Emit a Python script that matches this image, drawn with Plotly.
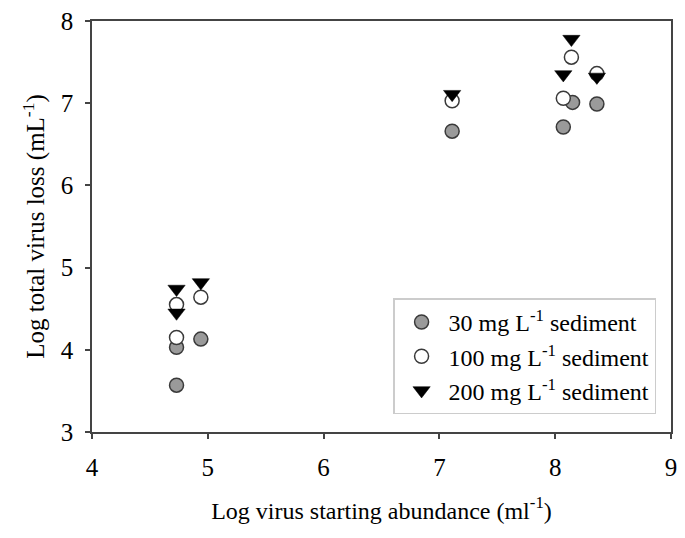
import plotly.graph_objects as go

# Data
x_30 = [4.73, 4.73, 4.94, 7.11, 8.07, 8.15, 8.36]
y_30 = [3.57, 4.03, 4.13, 6.66, 6.71, 7.01, 6.99]

x_100 = [4.73, 4.73, 4.94, 7.11, 8.07, 8.14, 8.36]
y_100 = [4.15, 4.55, 4.64, 7.03, 7.06, 7.56, 7.36]

x_200 = [4.73, 4.73, 4.94, 7.11, 8.07, 8.14, 8.36]
y_200 = [4.45, 4.74, 4.82, 7.11, 7.35, 7.78, 7.32]

names = ["30 mg L<sup>-1</sup> sediment",
         "100 mg L<sup>-1</sup> sediment",
         "200 mg L<sup>-1</sup> sediment"]

x_ticks = [4, 5, 6, 7, 8, 9]
y_ticks = [3, 4, 5, 6, 7, 8]

FONT = "Liberation Serif, Times New Roman, serif"

fig = go.Figure()
fig.add_trace(go.Scatter(
    x=x_30, y=y_30, mode="markers", name=names[0],
    marker=dict(symbol="circle", size=14, color="#9a9a9a",
                line=dict(color="#3a3a3a", width=1.5))))
fig.add_trace(go.Scatter(
    x=x_100, y=y_100, mode="markers", name=names[1],
    marker=dict(symbol="circle", size=14, color="white",
                line=dict(color="#3a3a3a", width=1.5))))
fig.add_trace(go.Scatter(
    x=x_200, y=y_200, mode="markers", name=names[2],
    marker=dict(symbol="triangle-down", size=15, color="black",
                line=dict(color="black", width=0.5))))

axis_common = dict(
    showgrid=False, zeroline=False, showline=True, linecolor="#444444",
    linewidth=1.5, mirror=True, ticks="outside", ticklen=5,
    tickcolor="#444444", tickwidth=1.5,
    tickfont=dict(family=FONT, size=25, color="black"),
)

fig.update_layout(
    width=685, height=538,
    margin=dict(l=92, r=8, t=20, b=106),
    paper_bgcolor="white", plot_bgcolor="white",
    font=dict(family=FONT, color="black"),
    showlegend=True,
    legend=dict(
        x=0.52, y=0.325, xanchor="left", yanchor="top",
        bgcolor="white", bordercolor="#cccccc", borderwidth=1.5,
        font=dict(family=FONT, size=24, color="black"),
        tracegroupgap=0, itemwidth=44,
    ),
    xaxis=dict(range=[4, 9], tickvals=x_ticks, ticklabelstandoff=7,
               title=dict(text="Log virus starting abundance (ml<sup>-1</sup>)",
                          font=dict(family=FONT, size=24), standoff=22),
               **axis_common),
    yaxis=dict(range=[3, 8], tickvals=y_ticks, ticklabelstandoff=7,
               title=dict(text="Log total virus loss (mL<sup>-1</sup>)",
                          font=dict(family=FONT, size=25), standoff=9),
               **axis_common),
)

fig.write_html("out.html")
